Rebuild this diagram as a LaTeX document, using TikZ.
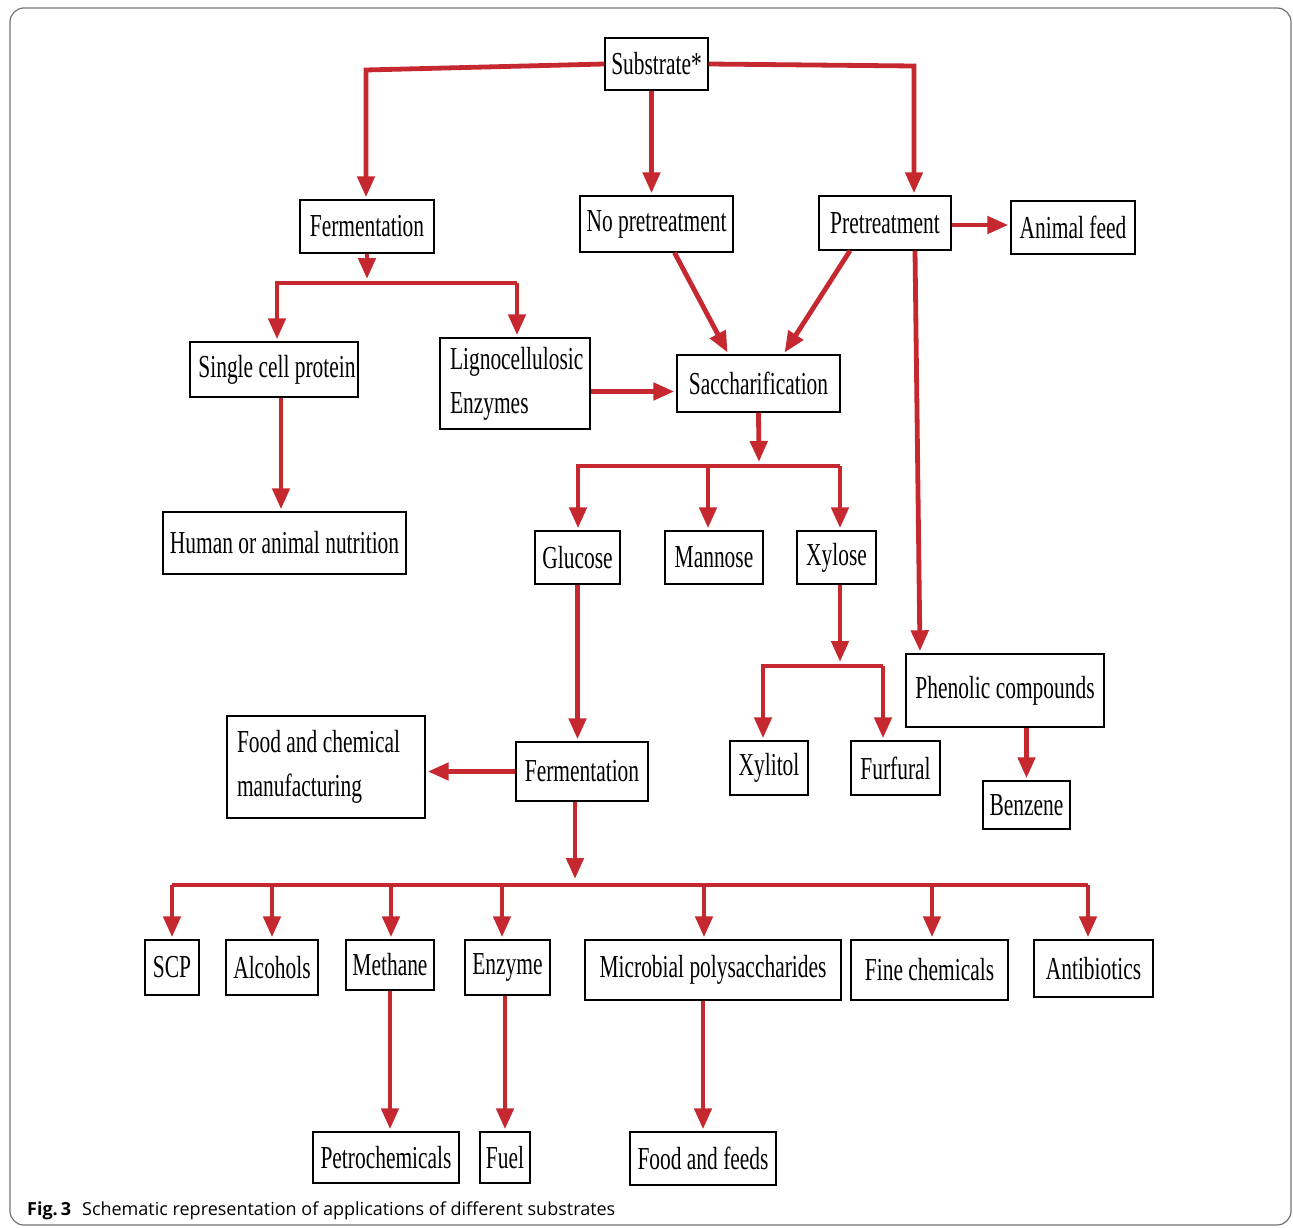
\documentclass[tikz,border=0pt]{standalone}
\usepackage{fontspec}
\setmainfont{Liberation Serif}
\newfontfamily\nar[FakeStretch=0.67]{Liberation Serif}
\newfontfamily\capfont{Open Sans}
\usetikzlibrary{arrows.meta}
\definecolor{arrred}{RGB}{198,40,48}
\begin{document}
\begin{tikzpicture}[x=1pt,y=-1pt,
  box/.style={draw=black, line width=1.4pt, inner sep=0pt, fill=white,
    font=\nar\fontsize{32}{36}\selectfont},
  twoline/.style={box, align=flush left, font=\nar\fontsize{32}{44}\selectfont},
  conn/.style={draw=arrred, line width=4.8pt},
  arr/.style={conn, -{Triangle[width=17pt,length=21pt]}, shorten >=2pt},
]
\useasboundingbox (0,0) rectangle (1293,1228);
\draw[black!55, line width=1.2pt, rounded corners=14pt] (10,8) rectangle (1291,1225);

% nodes
\node[box, minimum width=103pt, minimum height=52pt] (sub) at (656.5,64) {Substrate*};
\node[box, minimum width=134pt, minimum height=53pt] (fer1) at (367,226.5) {Fermentation};
\node[box, minimum width=153pt, minimum height=56pt] (nopre) at (656.5,224) {No pretreatment};
\node[box, minimum width=132pt, minimum height=54pt] (pre) at (885,223) {Pretreatment};
\node[box, minimum width=124pt, minimum height=53pt] (feed) at (1073,227.5) {Animal feed};
\node[box, minimum width=168pt, minimum height=55pt] (scp1) at (274,369.5) {\hspace{6pt}Single cell protein};
\node[twoline, minimum width=150pt, minimum height=91pt, text width=130pt] (ligno) at (515,383.5) {Lignocellulosic\\Enzymes};
\node[box, minimum width=163pt, minimum height=57pt] (sacc) at (758.5,383.5) {Saccharification};
\node[box, minimum width=243pt, minimum height=62pt] (human) at (284.5,543) {Human or animal nutrition};
\node[box, minimum width=85pt, minimum height=53pt] (glu) at (577.5,557.5) {Glucose};
\node[box, minimum width=98pt, minimum height=53pt] (man) at (714,557.5) {Mannose};
\node[box, minimum width=79pt, minimum height=53pt] (xyl) at (836.5,557.5) {Xylose};
\node[box, minimum width=198pt, minimum height=73pt] (phen) at (1005,690.5) {\raisebox{4pt}{Phenolic compounds}};
\node[box, minimum width=78pt, minimum height=54pt] (xylitol) at (769,768) {Xylitol};
\node[box, minimum width=89pt, minimum height=54pt] (furf) at (895.5,768) {Furfural};
\node[box, minimum width=87pt, minimum height=48pt] (benz) at (1026.5,805) {Benzene};
\node[twoline, minimum width=198pt, minimum height=102pt, text width=178pt] (food) at (326,767) {Food and chemical\\manufacturing};
\node[box, minimum width=132pt, minimum height=59pt] (fer2) at (582,771.5) {Fermentation};
\node[box, minimum width=54pt, minimum height=55pt] (scp) at (172,967.5) {SCP};
\node[box, minimum width=92pt, minimum height=55pt] (alc) at (272,967.5) {Alcohols};
\node[box, minimum width=88pt, minimum height=50pt] (meth) at (390,965) {Methane};
\node[box, minimum width=85pt, minimum height=55pt] (enz) at (507.5,967.5) {Enzyme};
\node[box, minimum width=256pt, minimum height=60pt] (micro) at (713,970) {Microbial polysaccharides};
\node[box, minimum width=157pt, minimum height=60pt] (fine) at (929.5,970) {Fine chemicals};
\node[box, minimum width=119pt, minimum height=57pt] (anti) at (1093.5,968.5) {Antibiotics};
\node[box, minimum width=146pt, minimum height=51pt] (petro) at (386,1157.5) {Petrochemicals};
\node[box, minimum width=50pt, minimum height=51pt] (fuel) at (505,1157.5) {Fuel};
\node[box, minimum width=146pt, minimum height=53pt] (ff) at (703,1158.5) {Food and feeds};

% caption
\node[anchor=base west, inner sep=0pt, font=\capfont\fontsize{18}{21}\selectfont] (cap) at (27,1215)
  {\textbf{Fig.\,3}\hspace{11pt}Schematic representation of applications of different substrates};

% bus coordinates
\coordinate (cl) at (366,70);
\coordinate (cr) at (914,66);
\coordinate (b1) at (367,283);
\coordinate (b1L) at (277,283);
\coordinate (b1R) at (517,283);
\coordinate (b2) at (759,466);
\coordinate (b2L) at (578,466);
\coordinate (b2M) at (708,466);
\coordinate (b2R) at (840,466);
\coordinate (b3) at (840,666);
\coordinate (b3L) at (763,666);
\coordinate (b3R) at (883,666);
\coordinate (b4) at (575,885);
\coordinate (d1) at (172,885);
\coordinate (d2) at (272,885);
\coordinate (d3) at (391,885);
\coordinate (d4) at (502,885);
\coordinate (d5) at (704,885);
\coordinate (d6) at (932,885);
\coordinate (d7) at (1088,885);

% connectors
\draw[arr] (sub.west) -- (cl) -- (cl |- fer1.north);
\draw[arr] ([xshift=-5pt]sub.south) -- ([xshift=-5pt]nopre.north);
\draw[arr] (sub.east) -- (cr) -- (cr |- pre.north);

\draw[arr] (fer1.south) -- ([yshift=2pt]b1);
\draw[arr] (b1R) -- (b1L) -- (b1L |- scp1.north);
\draw[arr] (b1R) -- (b1R |- ligno.north);
\draw[arr] ([xshift=7pt]scp1.south) -- ([xshift=7pt]scp1.south |- human.north);

\draw[arr] ([yshift=-8pt]ligno.east) -- ([yshift=-8pt]ligno.east -| sacc.west);
\draw[arr] ([xshift=18pt]nopre.south) -- ([xshift=-30pt]sacc.north);
\draw[arr] ([xshift=-35pt]pre.south) -- ([xshift=25pt]sacc.north);
\draw[arr] ([yshift=-2pt]pre.east) -- ([yshift=-2pt]pre.east -| feed.west);
\draw[arr] ([xshift=30pt]pre.south) -- ([xshift=-85pt]phen.north);

\draw[arr] (sacc.south) -- ([yshift=2pt]b2);
\draw[arr] (b2R) -- (b2L) -- (b2L |- glu.north);
\draw[arr] (b2M) -- (b2M |- man.north);
\draw[arr] (b2R) -- (b2R |- xyl.north);

\draw[arr] (glu.south) -- (glu.south |- fer2.north);
\draw[arr] (b3 |- xyl.south) -- ([yshift=2pt]b3);
\draw[arr] (b3R) -- (b3L) -- (b3L |- xylitol.north);
\draw[arr] (b3R) -- (b3R |- furf.north);
\draw[arr] (benz.north |- phen.south) -- (benz.north);

\draw[arr] (fer2.west) -- (fer2.west -| food.east);
\draw[arr] (b4 |- fer2.south) -- ([yshift=4pt]b4);
\draw[conn] (d1) -- (d7);
\draw[arr] (d1) -- (d1 |- scp.north);
\draw[arr] (d2) -- (d2 |- alc.north);
\draw[arr] (d3) -- (d3 |- meth.north);
\draw[arr] (d4) -- (d4 |- enz.north);
\draw[arr] (d5) -- (d5 |- micro.north);
\draw[arr] (d6) -- (d6 |- fine.north);
\draw[arr] (d7) -- (d7 |- anti.north);

\draw[arr] (meth.south) -- (meth.south |- petro.north);
\draw[arr] (fuel.north |- enz.south) -- (fuel.north);
\draw[arr] (ff.north |- micro.south) -- (ff.north);
\end{tikzpicture}
\end{document}
